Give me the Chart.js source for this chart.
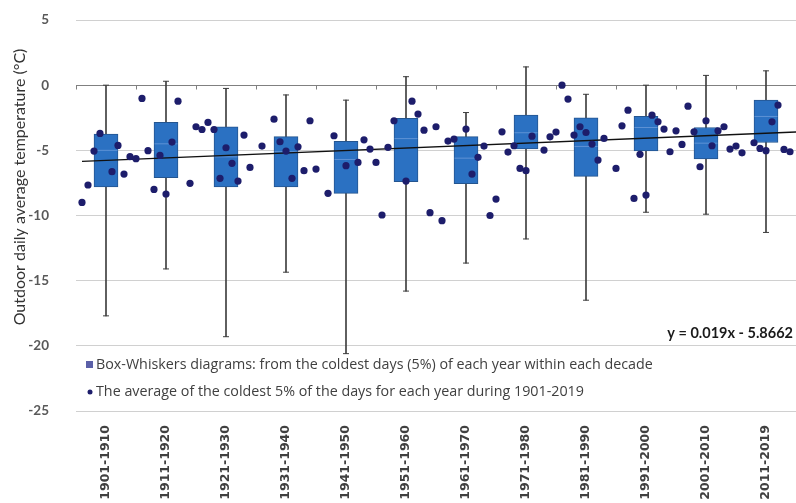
<!DOCTYPE html>
<html>
<head>
<meta charset="utf-8">
<script src="https://cdn.jsdelivr.net/npm/chart.js@4.4.0/dist/chart.umd.min.js"></script>
<style>
  html, body { margin: 0; padding: 0; background: #ffffff; }
  #wrap { width: 796px; height: 503px; position: relative; }
</style>
</head>
<body>
<div id="wrap"><canvas id="chart" width="796" height="503"></canvas></div>
<script>
// Decades on the category axis
const decades = ['1901-1910', '1911-1920', '1921-1930', '1931-1940', '1941-1950', '1951-1960',
                 '1961-1970', '1971-1980', '1981-1990', '1991-2000', '2001-2010', '2011-2019'];

// Box-whisker statistics per decade (°C)
const whiskerLow  = [-17.7, -14.1, -19.3, -14.35, -20.6, -15.8, -13.65, -11.8, -16.5, -9.75, -9.9, -11.3];
const quartile1   = [-7.8, -7.1, -7.8, -7.8, -8.3, -7.4, -7.55, -4.9, -7.0, -5.05, -5.65, -4.4];
const medians     = [-5.0, -4.5, -5.5, -5.1, -5.7, -4.1, -5.6, -3.65, -4.7, -3.25, -4.45, -2.4];
const quartile3   = [-3.75, -2.85, -3.2, -3.95, -4.3, -2.55, -3.95, -2.3, -2.5, -2.4, -3.25, -1.15];
const whiskerHigh = [0.0, 0.3, -0.25, -0.75, -1.15, 0.65, -2.1, 1.4, -0.7, 0.0, 0.75, 1.1];

// Yearly average of the coldest 5 % of days (year index 1 = 1901)
const yearIndex = [1, 2, 3, 4, 6, 7, 8, 9, 10, 11, 12, 13, 14, 15, 16, 17, 19, 20,
                   21, 22, 23, 24, 25, 26, 27, 28, 29, 31, 33, 34, 35, 36, 37, 38, 39,
                   40, 42, 43, 45, 47, 48, 49, 50, 51, 52, 53, 55, 56, 57, 58, 59, 60,
                   61, 62, 63, 65, 66, 67, 68, 69, 70, 71, 72, 73, 74, 75, 76, 78, 79, 80,
                   81, 82, 83, 84, 85, 86, 87, 88, 90, 91, 92, 93, 94, 95, 96, 97, 98, 99,
                   100, 101, 102, 103, 104, 105, 106, 107, 108, 109, 110, 111, 113, 114, 115, 116, 117, 118, 119];
const yearAvg = [-9.0, -7.66, -5.06, -3.7, -6.64, -4.62, -6.82, -5.49, -5.64, -1.02, -5.03, -8.0, -5.39, -8.35, -4.37, -1.23, -7.53, -3.19,
                 -3.4, -2.86, -3.4, -7.15, -4.8, -6.0, -7.36, -3.83, -6.31, -4.67, -2.61, -4.34, -5.06, -7.15, -4.73, -6.56, -2.73,
                 -6.44, -8.3, -3.88, -6.18, -5.93, -4.19, -4.9, -5.93, -9.96, -4.77, -2.73, -7.36, -1.23, -2.22, -3.45, -9.78, -3.19,
                 -10.4, -4.29, -4.14, -3.37, -6.82, -5.54, -4.67, -10.0, -8.74, -3.58, -5.13, -4.65, -6.39, -6.56, -3.91, -4.98, -3.96, -3.6,
                 0.0, -1.07, -3.83, -3.19, -3.63, -4.52, -5.75, -4.09, -6.39, -3.12, -1.92, -8.69, -5.31, -8.43, -2.3, -2.81, -3.37, -5.11,
                 -3.5, -4.55, -1.61, -3.58, -6.26, -2.73, -4.65, -3.5, -3.19, -4.9, -4.67, -5.19, -4.42, -4.85, -5.03, -2.81, -1.53, -4.93, -5.11];

// Linear trend of the yearly averages
const trendSlope = 0.019;
const trendIntercept = -5.8662;
const trendRange = [1, 120];

const yMin = -25, yMax = 5, yStep = 5;

const labelBox = 'Box-Whiskers diagrams: from the coldest days (5%) of each year within each decade';
const labelDots = 'The average of the coldest 5% of the days for each year during 1901-2019';
const axisTitle = 'Outdoor daily average temperature (°C)';
const equationText = 'y = ' + trendSlope + 'x - ' + Math.abs(trendIntercept);

const BOX_BLUE = '#2b71c2';
const BOX_EDGE = '#24558f';
const WHISKER = '#3f3f3f';
const DOT = '#1d1d6b';

// Tick marks on the zero line, legend, equation and axis title
const decor = {
  id: 'decor',
  beforeDatasetsDraw(chart) {
    const { ctx, scales: { x, y } } = chart;
    const y0 = Math.round(y.getPixelForValue(0)) + 0.5;
    const step = (x.right - x.left) / decades.length;
    ctx.save();
    ctx.strokeStyle = '#808080';
    ctx.lineWidth = 1;
    ctx.beginPath();
    for (let i = 0; i <= decades.length; i++) {
      const px = Math.round(x.left + i * step) + 0.5;
      ctx.moveTo(px, y0);
      ctx.lineTo(px, y0 + 4);
    }
    ctx.stroke();
    ctx.restore();
  },
  afterDraw(chart) {
    const { ctx, chartArea } = chart;
    ctx.save();
    // axis title
    ctx.fillStyle = '#333333';
    ctx.font = '16px Lato';
    ctx.textAlign = 'center';
    ctx.textBaseline = 'middle';
    ctx.translate(20, 187);
    ctx.rotate(-Math.PI / 2);
    ctx.fillText(axisTitle, 0, 0);
    ctx.restore();

    ctx.save();
    // equation
    ctx.fillStyle = '#1a1a1a';
    ctx.font = 'bold 14.5px Lato';
    ctx.textAlign = 'right';
    ctx.textBaseline = 'middle';
    ctx.fillText(equationText, chartArea.right - 3, 333);

    // legend
    ctx.textAlign = 'left';
    ctx.font = '14.3px "Open Sans"';
    ctx.fillStyle = '#5b60a8';
    ctx.fillRect(chartArea.left + 10, 361, 7, 7);
    ctx.fillStyle = '#404040';
    ctx.fillText(labelBox, chartArea.left + 20, 365);
    ctx.fillStyle = DOT;
    ctx.beginPath();
    ctx.arc(chartArea.left + 14, 392, 2.5, 0, Math.PI * 2);
    ctx.fill();
    ctx.fillStyle = '#404040';
    ctx.fillText(labelDots, chartArea.left + 20, 392);
    ctx.restore();
  }
};

new Chart(document.getElementById('chart'), {
  type: 'bar',
  data: {
    labels: decades,
    datasets: [
      {
        label: 'whisker',
        data: decades.map((_, i) => [whiskerLow[i], whiskerHigh[i]]),
        backgroundColor: WHISKER,
        barThickness: 1,
        grouped: false,
        order: 6
      },
      {
        label: 'capLow',
        type: 'line',
        data: whiskerLow,
        showLine: false,
        pointStyle: 'line',
        pointRadius: 3,
        borderColor: WHISKER,
        borderWidth: 1,
        order: 5
      },
      {
        label: 'capHigh',
        type: 'line',
        data: whiskerHigh,
        showLine: false,
        pointStyle: 'line',
        pointRadius: 3,
        borderColor: WHISKER,
        borderWidth: 1,
        order: 5
      },
      {
        label: labelBox,
        data: decades.map((_, i) => [quartile1[i], quartile3[i]]),
        backgroundColor: BOX_BLUE,
        borderColor: BOX_EDGE,
        borderWidth: 1,
        borderSkipped: false,
        barThickness: 24,
        grouped: false,
        order: 4
      },
      {
        label: 'median',
        type: 'line',
        data: medians,
        showLine: false,
        pointStyle: 'line',
        pointRadius: 11.5,
        borderColor: 'rgba(100,150,215,0.9)',
        borderWidth: 1,
        order: 3
      },
      {
        label: 'trend',
        type: 'line',
        xAxisID: 'xYear',
        data: trendRange.map(t => ({ x: t, y: trendSlope * t + trendIntercept })),
        borderColor: '#111111',
        borderWidth: 1.5,
        pointRadius: 0,
        order: 2
      },
      {
        label: labelDots,
        type: 'scatter',
        xAxisID: 'xYear',
        data: yearIndex.map((t, i) => ({ x: t, y: yearAvg[i] })),
        backgroundColor: DOT,
        borderWidth: 0,
        pointRadius: 3.6,
        order: 1
      }
    ]
  },
  options: {
    responsive: false,
    animation: false,
    devicePixelRatio: 1,
    layout: { autoPadding: false, padding: { top: 20, right: 0, bottom: 0, left: 0 } },
    plugins: { legend: { display: false }, tooltip: { enabled: false } },
    scales: {
      x: {
        type: 'category',
        offset: true,
        grid: { display: false, drawTicks: false },
        border: { display: false },
        ticks: {
          autoSkip: false,
          minRotation: 90,
          maxRotation: 90,
          padding: 14,
          color: '#404040',
          font: { family: 'DejaVu Sans', size: 12.5, weight: 'bold' }
        },
        afterFit(scale) {
          scale.height = 92;
          scale.paddingLeft = 0;
          scale.paddingRight = 0;
        }
      },
      xYear: {
        type: 'linear',
        display: false,
        offset: false,
        min: 0,
        max: 120
      },
      y: {
        min: yMin,
        max: yMax,
        border: { display: false },
        grid: {
          drawTicks: true,
          tickLength: 23,
          tickColor: 'rgba(0,0,0,0)',
          color: ctx => ctx.tick && ctx.tick.value === 0 ? '#808080' : '#d0d0d0'
        },
        ticks: {
          stepSize: yStep,
          padding: 4,
          color: '#595959',
          font: { family: 'Lato', size: 13.5, weight: 'bold' }
        },
        afterFit(scale) { scale.width = 76; }
      }
    }
  },
  plugins: [decor]
});
</script>
</body>
</html>
